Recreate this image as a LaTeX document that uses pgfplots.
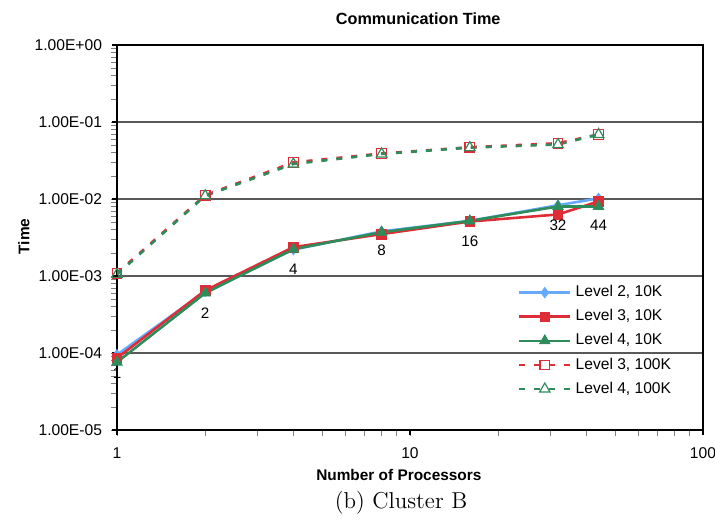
\documentclass[border=0pt]{standalone}
\usepackage{fontspec}
\usepackage{pgfplots}
\pgfplotsset{compat=1.18}
\newfontfamily\arial{Liberation Sans}
\definecolor{cblue}{RGB}{102,170,255}
\definecolor{cred}{RGB}{222,45,55}
\definecolor{cgreen}{RGB}{46,140,90}
\begin{document}
\begin{tikzpicture}
\begin{axis}[
  scale only axis,
  width=293pt, height=192.5pt,
  xmode=log, ymode=log,
  xmin=1, xmax=100, ymin=1e-5, ymax=1,
  xtick={1,10,100}, xticklabels={1,10,100},
  ytick={1e-5,1e-4,1e-3,1e-2,1e-1,1},
  yticklabels={1.00E-05,1.00E-04,1.00E-03,1.00E-02,1.00E-01,1.00E+00},
  minor tick num=0, minor xtick={}, minor ytick={},
  tick align=outside, major tick length=2.5pt,
  xtick pos=bottom, ytick pos=left,
  axis line style={line width=0.9pt},
  major tick style={line width=0.6pt, black},
  ymajorgrids, major grid style={black!65, line width=0.6pt},
  tick label style={font=\arial\fontsize{7.8}{9}\selectfont},
  yticklabel style={xshift=-1.5pt},
  xticklabel style={yshift=-3pt},
  title={Communication Time},
  title style={font=\arial\bfseries\fontsize{8.1}{10}\selectfont, at={(axis description cs:0.514,1)}, anchor=center, yshift=7pt},
  xlabel={Number of Processors},
  xlabel style={font=\arial\bfseries\fontsize{7.7}{9}\selectfont, at={(axis description cs:0.481,0)}, anchor=center, yshift=-22.5pt},
  ylabel={Time},
  ylabel style={font=\arial\bfseries\fontsize{7.7}{9}\selectfont, at={(axis description cs:-0.159,0.503)}, anchor=center},
  legend style={at={(axis description cs:0.68,0.392)}, anchor=north west, draw=none, fill=none,
    font=\arial\fontsize{7.8}{9}\selectfont, row sep=0.9pt, inner sep=1pt},
  legend cell align=left,
  legend image code/.code={\draw[mark repeat=2,mark phase=2,#1] plot coordinates {(0cm,0cm) (0.45cm,0cm) (0.9cm,0cm)};},
]
\addplot[cblue, line width=1.3pt, mark=diamond*, mark size=2.6pt, mark options={solid, fill=cblue, draw=cblue, line width=0.4pt}]
 coordinates {(1,9.5e-5) (2,6.3e-4) (4,2.2e-3) (8,3.8e-3) (16,5.2e-3) (32,8.3e-3) (44,1.02e-2)};
\addlegendentry{Level 2, 10K}
\addplot[cred, line width=1.3pt, mark=square*, mark size=2.4pt, mark options={solid, fill=cred, draw=cred, line width=0.4pt}]
 coordinates {(1,8.6e-5) (2,6.5e-4) (4,2.37e-3) (8,3.5e-3) (16,5.1e-3) (32,6.3e-3) (44,9.3e-3)};
\addlegendentry{Level 3, 10K}
\addplot[cgreen, line width=1.3pt, mark=triangle*, mark size=3pt, mark options={solid, fill=cgreen, draw=cgreen, line width=0.4pt}]
 coordinates {(1,7.6e-5) (2,6.0e-4) (4,2.23e-3) (8,3.7e-3) (16,5.2e-3) (32,8.0e-3) (44,8.0e-3)};
\addlegendentry{Level 4, 10K}
\addplot[cred, line width=1.3pt, dash pattern=on 3pt off 4.5pt, mark=square, mark size=2.4pt, mark options={solid, fill=white, draw=cred, line width=0.6pt}]
 coordinates {(1,1.09e-3) (2,1.12e-2) (4,2.99e-2) (8,3.9e-2) (16,4.7e-2) (32,5.3e-2) (44,6.9e-2)};
\addlegendentry{Level 3, 100K}
\addplot[cgreen, line width=1.3pt, dash pattern=on 3pt off 4.5pt, mark=triangle, mark size=3pt, mark options={solid, draw=cgreen, line width=0.6pt}]
 coordinates {(1,1.05e-3) (2,1.1e-2) (4,2.85e-2) (8,3.85e-2) (16,4.65e-2) (32,5.1e-2) (44,6.9e-2)};
\addlegendentry{Level 4, 100K}
\addplot[draw=none, mark=none, nodes near coords, point meta=explicit symbolic,
  every node near coord/.style={anchor=center, font=\arial\fontsize{7.6}{9}\selectfont, inner sep=0pt}, forget plot]
 coordinates {(1,5.5e-5)[1] (2,3.3e-4)[2] (4,1.23e-3)[4] (8,2.16e-3)[8] (16,2.8e-3)[16] (32,4.55e-3)[32] (44,4.55e-3)[44]};
\end{axis}
\node[font=\fontsize{11.5}{14}\selectfont] at ([xshift=-4.5pt,yshift=-36.5pt]current axis.south) {(b) Cluster B};
\pgfresetboundingbox
\path[use as bounding box] ([xshift=-58.5pt,yshift=-45.5pt]current axis.south west) rectangle ([xshift=6pt,yshift=22.5pt]current axis.north east);
\end{tikzpicture}
\end{document}
